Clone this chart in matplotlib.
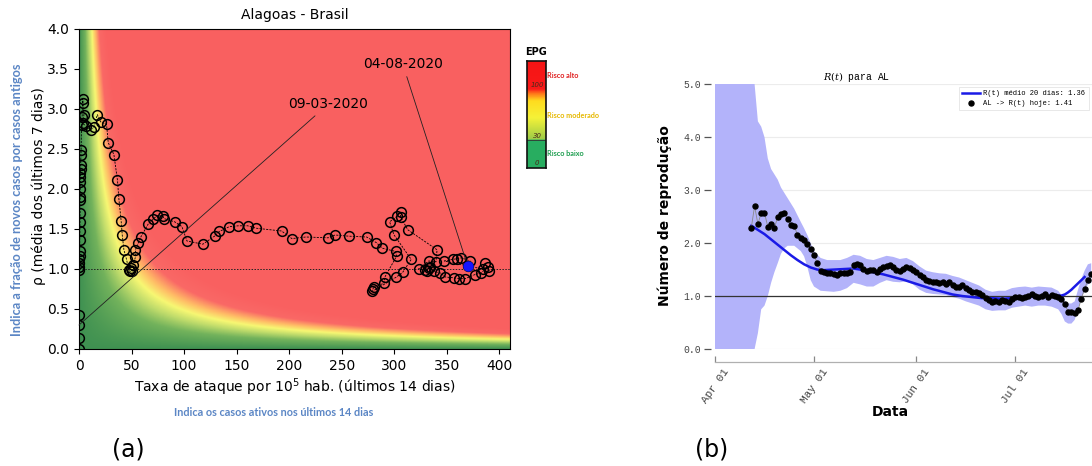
import datetime as dt
import numpy as np
import matplotlib
matplotlib.use("Agg")
import matplotlib.pyplot as plt
import matplotlib.dates as mdates
from matplotlib.colors import LinearSegmentedColormap, Normalize

# ---------------- data: EPG risk diagram (Alagoas) ----------------
attack_rate = [
    0.0, 0.0, 0.0, 0.0, 0.2, 0.3, 0.4, 0.4, 0.5, 0.6, 0.7, 0.8, 0.9, 1.0,
    1.0, 1.1, 1.2, 1.3, 1.3, 1.4, 1.5, 1.6, 1.8, 2.0, 2.4, 3.0, 3.5, 3.5,
    4.7, 3.5, 6.3, 11.0, 14.5, 17.4, 20.5, 26.2, 27.8, 33.2, 36.6, 37.9,
    40.1, 41.1, 42.7, 45.2, 47.4, 48.3, 50.5, 49.3, 51.5, 53.7, 53.7, 56.2,
    58.8,
    65.7, 70.4, 74.2, 79.9, 80.9, 91.0, 97.9, 102.7, 117.8, 128.9, 133.6,
    143.1, 151.7, 160.5, 168.4, 192.7, 202.5, 215.8, 237.0, 243.6, 256.9,
    273.6, 282.8, 288.5, 301.1, 302.1,
    291.0, 290.0, 280.6, 279.6, 279.0, 302.0, 308.0, 316.0, 299.5, 295.5,
    302.7, 305.9, 305.9, 312.8, 340.6, 339.6, 332.7, 323.0, 329.6, 332.7,
    331.0, 334.0, 337.4, 343.8, 348.5, 356.4, 361.8, 367.5, 376.6, 382.3,
    388.6, 390.2, 386.0, 383.9, 347.5, 355.5, 360.0, 363.7, 372.0, 369.7,
]
rho = [
    0.30, 0.00, 0.14, 0.42, 0.99, 1.03, 1.08, 1.12, 1.16, 1.22, 1.36, 1.47,
    1.59, 1.70, 1.86, 1.90, 2.00, 2.09, 2.15, 2.20, 2.25, 2.30, 2.43, 2.49,
    2.80, 2.90, 3.08, 3.13,
    2.93, 2.82, 2.79, 2.74, 2.78, 2.93, 2.84, 2.81, 2.58, 2.43, 2.11, 1.88,
    1.60, 1.43, 1.24, 1.12, 0.99, 0.97, 0.97, 1.01, 1.05, 1.15, 1.24, 1.32,
    1.40,
    1.56, 1.62, 1.67, 1.66, 1.63, 1.59, 1.53, 1.35, 1.31, 1.41, 1.47,
    1.53, 1.54, 1.54, 1.51, 1.475, 1.38, 1.40, 1.39, 1.425, 1.41,
    1.40, 1.33, 1.26, 1.22, 1.16,
    0.90, 0.82, 0.78, 0.75, 0.72, 0.90, 0.96, 1.12, 1.43, 1.59,
    1.66, 1.71, 1.65, 1.49, 1.24, 1.09, 1.10, 1.00, 0.99, 1.01,
    0.98, 1.02, 0.97, 0.95, 0.90, 0.89, 0.88, 0.88, 0.93, 0.95,
    1.02, 0.98, 1.07, 1.00, 1.10, 1.12, 1.13, 1.14, 1.10, 1.04,
]
first_label = "09-03-2020"
last_label = "04-08-2020"

epg_levels = [0, 30, 100]
epg_level_names = ["Risco baixo", "Risco moderado", "Risco alto"]

# ---------------- data: R(t) for AL ----------------
rt_start = dt.date(2020, 4, 12)
rt_today = [
    2.29, 2.70, 2.36, 2.57, 2.57, 2.31, 2.36, 2.28, 2.50, 2.55, 2.57,
    2.45, 2.35, 2.33, 2.15, 2.10, 2.05, 1.98, 1.88, 1.77, 1.62, 1.48,
    1.45, 1.43, 1.43, 1.42, 1.40, 1.43, 1.44, 1.44, 1.46, 1.58, 1.61, 1.58,
    1.52, 1.48, 1.50, 1.49, 1.45, 1.52, 1.55, 1.56, 1.59, 1.54, 1.50, 1.48,
    1.52, 1.54, 1.53, 1.50, 1.46, 1.40, 1.36, 1.31, 1.28, 1.27, 1.27, 1.25,
    1.26, 1.23, 1.26, 1.21, 1.18, 1.17, 1.20, 1.15, 1.12, 1.08, 1.08, 1.05,
    1.02,
    0.97, 0.92, 0.89, 0.91, 0.89, 0.92, 0.91, 0.89, 0.95, 0.99, 0.99, 0.97,
    0.99, 1.01, 1.04, 1.00, 0.99, 1.01, 1.04, 0.99, 1.02, 1.00, 0.99, 0.94,
    0.85, 0.70, 0.69, 0.68, 0.73, 0.95, 1.14, 1.30, 1.41,
]
rt_mean_days = [11, 13, 15, 17, 19, 21, 23, 25, 27, 29, 31, 33, 36, 39, 42,
                45, 48, 51, 54, 57, 60, 63, 66, 69, 72, 75, 78, 81, 84, 87,
                90, 93, 96, 99, 102, 105, 106, 107, 108, 109, 110, 111, 112]
rt_mean = [2.33, 2.25, 2.17, 2.07, 1.97, 1.87, 1.77, 1.68, 1.60, 1.54, 1.50,
           1.49, 1.50, 1.51, 1.52, 1.49, 1.45, 1.41, 1.36, 1.31, 1.25, 1.19,
           1.13, 1.08, 1.03, 1.00, 0.98, 0.96, 0.96, 0.95, 0.96, 0.97, 0.99,
           1.00, 1.00, 1.01, 1.03, 1.07, 1.12, 1.18, 1.24, 1.30, 1.36]
band_days = [0, 4, 8, 11, 12, 13, 14, 15, 16, 17, 18, 19, 20, 21, 22, 24,
             26, 27, 28, 29, 30, 32, 34, 36, 38, 40, 42, 44, 46, 48, 50, 52,
             54, 56, 58, 60, 62, 64, 66, 68, 70, 72, 74, 76, 78, 80, 82, 84,
             86, 88, 90, 92, 94, 96, 98, 100, 102, 104, 105, 106, 107, 108,
             109, 110, 111, 112, 113, 114]
band_hi = [9.0, 9.0, 9.0, 9.0, 5.0, 4.3, 4.2, 4.0, 3.6, 3.4, 3.3, 3.2, 3.05,
           2.95, 2.85, 2.65, 2.4, 2.28, 2.15, 2.0, 1.85, 1.72, 1.68, 1.68,
           1.68, 1.72, 1.78, 1.76, 1.70, 1.68, 1.72, 1.76, 1.74, 1.70, 1.72,
           1.66, 1.56, 1.48, 1.45, 1.43, 1.42, 1.38, 1.35, 1.30, 1.25, 1.20,
           1.12, 1.08, 1.10, 1.10, 1.15, 1.17, 1.18, 1.16, 1.18, 1.17, 1.16,
           1.10, 1.02, 0.90, 0.86, 0.86, 0.90, 1.12, 1.32, 1.48, 1.60, 1.62]
band_lo = [0.0, 0.0, 0.0, 0.0, 0.0, 0.30, 0.75, 0.82, 1.0, 1.25, 1.45, 1.62,
           1.80, 1.90, 1.95, 1.95, 1.85, 1.75, 1.55, 1.30, 1.18, 1.10, 1.09,
           1.08, 1.10, 1.15, 1.25, 1.22, 1.18, 1.18, 1.25, 1.30, 1.27, 1.26,
           1.28, 1.22, 1.12, 1.06, 1.04, 1.03, 1.02, 0.98, 0.95, 0.90, 0.86,
           0.82, 0.75, 0.72, 0.73, 0.73, 0.78, 0.80, 0.82, 0.80, 0.82, 0.82,
           0.80, 0.75, 0.66, 0.52, 0.48, 0.48, 0.55, 0.75, 0.95, 1.10, 1.22,
           1.25]
rt_mean_label = "R(t) médio 20 dias: 1.36"
rt_today_label = "AL -> R(t) hoje: 1.41"
month_ticks = [dt.date(2020, 4, 1), dt.date(2020, 5, 1),
               dt.date(2020, 6, 1), dt.date(2020, 7, 1)]

# ---------------- figure ----------------
W, H = 1092, 466
fig = plt.figure(figsize=(W / 100, H / 100), dpi=100)


def box(l, t, r, b):
    return [l / W, 1 - b / H, (r - l) / W, (b - t) / H]


def fx(px):
    return px / W


def fy(py):
    return 1 - py / H


# ===== panel (a) =====
ax = fig.add_axes(box(79, 29, 510, 349))
xmax, ymax = 410, 4.0
gx = np.linspace(0, xmax, 500)
gy = np.linspace(0, ymax, 400)
GX, GY = np.meshgrid(gx, gy)
epg = GX * GY
bg_cmap = LinearSegmentedColormap.from_list("epg_bg", [
    (0.00, (0.25, 0.57, 0.32)),
    (0.22, (0.45, 0.70, 0.36)),
    (0.36, (0.75, 0.86, 0.42)),
    (0.48, (0.97, 0.97, 0.45)),
    (0.60, (1.00, 0.74, 0.40)),
    (0.76, (0.98, 0.41, 0.40)),
    (1.00, (0.98, 0.38, 0.38)),
])
ax.imshow(epg, extent=[0, xmax, 0, ymax], origin="lower", aspect="auto",
          cmap=bg_cmap, norm=Normalize(0, 100, clip=True),
          interpolation="bilinear", zorder=0)
ax.axhline(1.0, color="#222222", lw=0.7, ls=(0, (1.5, 1.5)), zorder=1)
ax.plot(attack_rate, rho, color="black", lw=0.6, ls=(0, (2.5, 1.5)),
        marker="o", ms=7, mfc="none", mec="black", mew=1.1, zorder=3)
ax.plot(attack_rate[-1], rho[-1], "o", color="#1414ff", ms=6.5, zorder=4)

ax.annotate(first_label, xy=(attack_rate[0], rho[0]), xytext=(237, 3.06),
            ha="center", va="center", fontsize=10,
            arrowprops=dict(arrowstyle="-", color="#222222", lw=0.6,
                            shrinkA=2, shrinkB=0))
ax.annotate(last_label, xy=(attack_rate[-1], rho[-1]), xytext=(308, 3.56),
            ha="center", va="center", fontsize=10,
            arrowprops=dict(arrowstyle="-", color="#222222", lw=0.6,
                            shrinkA=2, shrinkB=4))

ax.set_xlim(0, xmax)
ax.set_ylim(0, ymax)
ax.set_xticks(np.arange(0, 401, 50))
ax.set_yticks(np.arange(0, 4.01, 0.5))
ax.yaxis.set_major_formatter(matplotlib.ticker.FormatStrFormatter("%.1f"))
ax.tick_params(labelsize=10, length=3.5)
ax.set_title("Alagoas - Brasil", fontsize=10, pad=7)
ax.set_xlabel("Taxa de ataque por 10$^5$ hab. (últimos 14 dias)",
              fontsize=10, labelpad=3)
fig.text(fx(39), fy(186), "ρ (média dos últimos 7 dias)", rotation=90,
         fontsize=10, ha="center", va="center")

blue_note = "#5b86c5"
fig.text(fx(17), fy(200), "Indica a fração de novos casos por casos antigos",
         rotation=90, fontsize=9.2, color=blue_note, fontweight="bold",
         family="Lato", ha="center", va="center")
fig.text(fx(274), fy(412), "Indica os casos ativos nos últimos 14 dias",
         fontsize=7.8, color=blue_note, fontweight="bold", family="Lato",
         ha="center", va="center")

# EPG level legend
lax = fig.add_axes(box(527, 61, 546, 168))
legend_cmap = LinearSegmentedColormap.from_list("epg_leg", [
    (0.000, (0.16, 0.68, 0.38)),
    (0.258, (0.16, 0.68, 0.38)),
    (0.270, (0.62, 0.80, 0.28)),
    (0.470, (0.96, 0.95, 0.22)),
    (0.630, (1.00, 0.86, 0.12)),
    (0.700, (1.00, 0.45, 0.10)),
    (0.740, (0.98, 0.10, 0.10)),
    (1.000, (0.96, 0.08, 0.08)),
])
lax.imshow(np.linspace(0, 1, 200).reshape(-1, 1), extent=[0, 1, 0, 1],
           origin="lower", aspect="auto", cmap=legend_cmap)
lax.axhline(0.262, color="#333333", lw=0.6)
lax.set_xticks([])
lax.set_yticks([])
for s in lax.spines.values():
    s.set_linewidth(1.2)
    s.set_color("#111111")
fig.text(fx(536), fy(52), "EPG", fontsize=7, fontweight="bold",
         ha="center", va="center")
level_y = {0: 163, 30: 136, 100: 85}
for lev in epg_levels:
    fig.text(fx(537), fy(level_y[lev]), str(lev), fontsize=5, style="italic",
             color="#4a2a1a", ha="center", va="center")
name_pos = [(153, "#1e9e50"), (115, "#e6b800"), (75, "#e02020")]
for name, (py, col) in zip(epg_level_names, name_pos):
    fig.text(fx(547), fy(py), name, fontsize=5.2, color=col,
             fontweight="bold", family="Lato", ha="left", va="center")

# ===== panel (b) =====
day0 = dt.date(2020, 4, 1)
px_per_day = 3.3
n_days = 125
bx = fig.add_axes(box(715, 84.3, 715 + n_days * px_per_day, 349))

band_dates = [day0 + dt.timedelta(days=d) for d in band_days]
mean_dates = [day0 + dt.timedelta(days=d) for d in rt_mean_days]
today_dates = [rt_start + dt.timedelta(days=i) for i in range(len(rt_today))]

bx.fill_between(band_dates, band_lo, band_hi, color="#b3b3fa", lw=0,
                zorder=1)
bx.axhline(1.0, color="#333333", lw=0.9, zorder=2)
bx.plot(mean_dates, rt_mean, color="#1a1ae6", lw=1.8, zorder=3,
        label=rt_mean_label)
bx.plot(today_dates, rt_today, color="#8a8a8a", lw=0.6, zorder=4)
bx.plot(today_dates, rt_today, "o", color="black", ms=3.6, zorder=5,
        label=rt_today_label)

bx.set_xlim(day0, day0 + dt.timedelta(days=n_days))
bx.set_ylim(0, 5.0)
bx.set_yticks(np.arange(0, 5.01, 1.0))
bx.yaxis.set_major_formatter(matplotlib.ticker.FormatStrFormatter("%.1f"))
bx.yaxis.grid(True, color="#ececec", lw=0.8, zorder=0)
bx.set_axisbelow(True)
bx.set_xticks(month_ticks)
bx.xaxis.set_major_formatter(mdates.DateFormatter("%b %d"))
for s in ("top", "right", "left"):
    bx.spines[s].set_visible(False)
bx.spines["left"].set_position(("outward", 3))
bx.spines["bottom"].set_position(("outward", 9))
bx.spines["bottom"].set_linestyle((0, (1, 1)))
bx.spines["bottom"].set_color("#b0b0b0")
bx.spines["bottom"].set_linewidth(0.9)
bx.tick_params(axis="y", length=5, width=0.9, color="#555555", pad=2,
               labelsize=7, labelcolor="#444444")
bx.tick_params(axis="x", direction="in", length=4, width=0.9,
               color="#888888", pad=4, labelsize=8, labelcolor="#444444")
for lab in bx.get_yticklabels() + bx.get_xticklabels():
    lab.set_family("Liberation Mono")
for lab in bx.get_xticklabels():
    lab.set_rotation(55)
    lab.set_ha("center")

leg = bx.legend(loc="upper left", bbox_to_anchor=(fx(959), fy(87)),
                bbox_transform=fig.transFigure, fancybox=False,
                prop={"family": "Liberation Mono", "size": 5.1},
                frameon=True, edgecolor="#dddddd", handlelength=2.5,
                borderpad=0.45, labelspacing=0.4, handletextpad=0.5,
                borderaxespad=0)
leg.get_frame().set_linewidth(0.6)

fig.text(fx(857), fy(77), r"$R(t)$ para AL", fontsize=7,
         family="Liberation Mono", math_fontfamily="dejavuserif",
         ha="center", va="center")
fig.text(fx(665), fy(216), "Número de reprodução", rotation=90,
         fontsize=10, fontweight="bold", ha="center", va="center")
fig.text(fx(890), fy(412), "Data", fontsize=10, fontweight="bold",
         ha="center", va="center")

# panel tags
fig.text(fx(128), fy(450), "(a)", fontsize=17, ha="center", va="center")
fig.text(fx(712), fy(450), "(b)", fontsize=17, ha="center", va="center")

fig.savefig("out.png", dpi=100)
